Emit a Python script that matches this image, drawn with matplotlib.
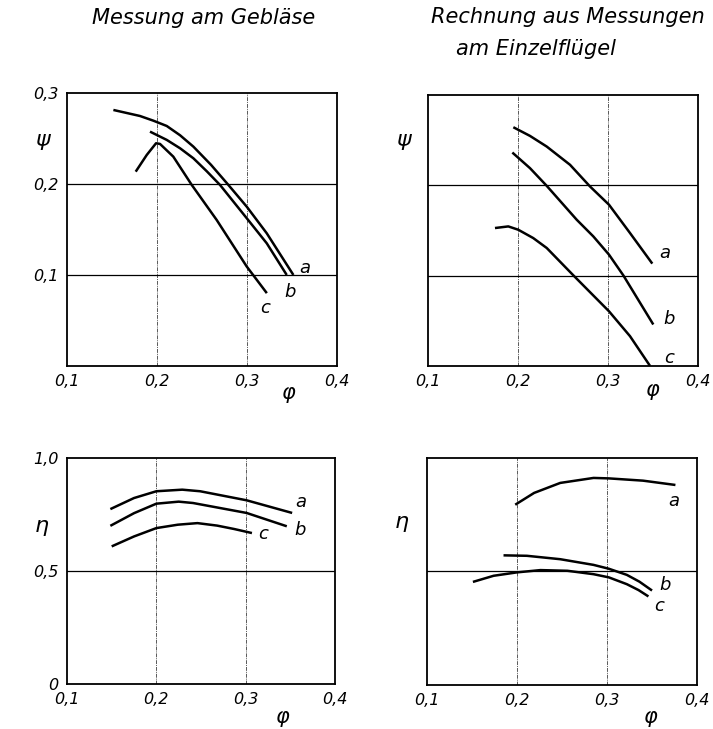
import matplotlib.pyplot as plt

# values (phi, psi / eta)
phi_ticks = [0.1, 0.2, 0.3, 0.4]
phi_labels = ["0,1", "0,2", "0,3", "0,4"]

# top left: Messung am Gebläse, psi
tl_a_phi = [0.1515, 0.181, 0.196, 0.2108, 0.2256, 0.2404, 0.260, 0.2793,
            0.2997, 0.3219, 0.3515]
tl_a_psi = [0.2813, 0.2747, 0.2695, 0.2637, 0.2535, 0.241, 0.221, 0.1989,
            0.175, 0.1458, 0.100]
tl_b_phi = [0.1922, 0.2108, 0.2256, 0.2404, 0.2552, 0.270, 0.2997, 0.3219,
            0.3441]
tl_b_psi = [0.2575, 0.2484, 0.2392, 0.2282, 0.214, 0.1989, 0.1623, 0.1348,
            0.100]
tl_c_phi = [0.1763, 0.1886, 0.1989, 0.2033, 0.2181, 0.2386, 0.2663, 0.2997,
            0.322]
tl_c_psi = [0.2135, 0.2319, 0.2447, 0.244, 0.230, 0.1989, 0.1604, 0.1092,
            0.080]

# top right: Rechnung aus Messungen am Einzelflügel, psi
tr_a_phi = [0.1948, 0.2133, 0.2319, 0.2578, 0.280, 0.3011, 0.3244, 0.3492]
tr_a_psi = [0.2643, 0.2547, 0.2429, 0.2227, 0.1987, 0.1785, 0.1472, 0.1133]
tr_b_phi = [0.1937, 0.2133, 0.2319, 0.2652, 0.2837, 0.3011, 0.317, 0.3503]
tr_b_psi = [0.2363, 0.219, 0.1994, 0.1619, 0.1434, 0.1232, 0.1003, 0.0459]
tr_c_phi = [0.1744, 0.1892, 0.2003, 0.2169, 0.2319, 0.2615, 0.3011, 0.3244,
            0.3467]
tr_c_psi = [0.1527, 0.1545, 0.1508, 0.1416, 0.1306, 0.1003, 0.0605, 0.033,
            0.000]

# bottom left: Messung am Gebläse, eta
bl_a_phi = [0.1485, 0.175, 0.200, 0.229, 0.249, 0.301, 0.352]
bl_a_eta = [0.774, 0.823, 0.853, 0.860, 0.853, 0.813, 0.757]
bl_b_phi = [0.1485, 0.175, 0.200, 0.225, 0.241, 0.301, 0.346]
bl_b_eta = [0.700, 0.756, 0.798, 0.807, 0.801, 0.757, 0.698]
bl_c_phi = [0.150, 0.175, 0.200, 0.224, 0.246, 0.268, 0.287, 0.307]
bl_c_eta = [0.609, 0.653, 0.690, 0.705, 0.712, 0.701, 0.686, 0.668]

# bottom right: Rechnung aus Messungen am Einzelflügel, eta
br_a_phi = [0.198, 0.219, 0.248, 0.285, 0.302, 0.340, 0.376]
br_a_eta = [0.794, 0.846, 0.890, 0.912, 0.910, 0.900, 0.881]
br_b_phi = [0.185, 0.211, 0.248, 0.285, 0.302, 0.322, 0.336, 0.350]
br_b_eta = [0.571, 0.569, 0.554, 0.529, 0.512, 0.485, 0.455, 0.416]
br_c_phi = [0.151, 0.174, 0.200, 0.226, 0.256, 0.285, 0.302, 0.322, 0.335,
            0.346]
br_c_eta = [0.454, 0.481, 0.496, 0.506, 0.503, 0.488, 0.474, 0.444, 0.418,
            0.390]

FONT = dict(family="DejaVu Sans", style="italic", color="black")

fig = plt.figure(figsize=(7.13, 7.29), dpi=100)


def panel(rect, ylim, hlines, curves, labels, ylab, ylab_pos, xlab_pos,
          yticks=None, yticklabels=None):
    ax = fig.add_axes(rect)
    ax.set_xlim(0.1, 0.4)
    ax.set_ylim(*ylim)
    for v in [0.2, 0.3]:
        ax.axvline(v, color="0.35", lw=0.7, ls=(0, (4, 1, 1, 1)))
    for h in hlines:
        ax.axhline(h, color="black", lw=0.9)
    for x, y in curves:
        ax.plot(x, y, color="black", lw=1.8, solid_capstyle="butt",
                solid_joinstyle="round")
    for txt, (x, y) in labels.items():
        ax.text(x, y, txt, fontsize=13, **FONT)
    ax.set_xticks(phi_ticks)
    ax.set_xticklabels(phi_labels, fontsize=11.5, **FONT)
    if yticks is not None:
        ax.set_yticks(yticks)
        ax.set_yticklabels(yticklabels, fontsize=11.5, **FONT)
    else:
        ax.set_yticks([])
    ax.tick_params(length=0, pad=6)
    for s in ax.spines.values():
        s.set_linewidth(1.3)
    ax.text(ylab_pos[0], ylab_pos[1], ylab, transform=ax.transAxes,
            fontsize=16, ha="center", va="center", **FONT)
    ax.text(xlab_pos[0], xlab_pos[1], "φ", transform=ax.transAxes,
            fontsize=15, ha="center", va="center", **FONT)
    return ax


panel([0.094, 0.498, 0.3787, 0.3745], (0, 0.3), [0.1, 0.2],
      [(tl_a_phi, tl_a_psi), (tl_b_phi, tl_b_psi), (tl_c_phi, tl_c_psi)],
      {"a": (0.358, 0.102), "b": (0.342, 0.076), "c": (0.315, 0.058)},
      "ψ", (-0.093, 0.828), (0.82, -0.10),
      [0.1, 0.2, 0.3], ["0,1", "0,2", "0,3"])

panel([0.6003, 0.498, 0.3787, 0.3717], (0, 0.3), [0.1, 0.2],
      [(tr_a_phi, tr_a_psi), (tr_b_phi, tr_b_psi), (tr_c_phi, tr_c_psi)],
      {"a": (0.357, 0.120), "b": (0.362, 0.046), "c": (0.362, 0.003)},
      "ψ", (-0.093, 0.834), (0.833, -0.09))

panel([0.094, 0.0617, 0.3759, 0.31], (0, 1.0), [0.5],
      [(bl_a_phi, bl_a_eta), (bl_b_phi, bl_b_eta), (bl_c_phi, bl_c_eta)],
      {"a": (0.355, 0.785), "b": (0.355, 0.660), "c": (0.314, 0.640)},
      "η", (-0.093, 0.70), (0.806, -0.146),
      [0, 0.5, 1.0], ["0", "0,5", "1,0"])

panel([0.5989, 0.0604, 0.3787, 0.3114], (0, 1.0), [0.5],
      [(br_a_phi, br_a_eta), (br_b_phi, br_b_eta), (br_c_phi, br_c_eta)],
      {"a": (0.368, 0.790), "b": (0.358, 0.420), "c": (0.352, 0.325)},
      "η", (-0.093, 0.718), (0.83, -0.14))

fig.text(0.286, 0.975, "Messung am Gebläse", fontsize=15, ha="center",
         va="center", **FONT)
fig.text(0.797, 0.977, "Rechnung aus Messungen", fontsize=15, ha="center",
         va="center", **FONT)
fig.text(0.640, 0.933, "am Einzelflügel", fontsize=15, ha="left",
         va="center", **FONT)

fig.savefig("out.png", dpi=100)
